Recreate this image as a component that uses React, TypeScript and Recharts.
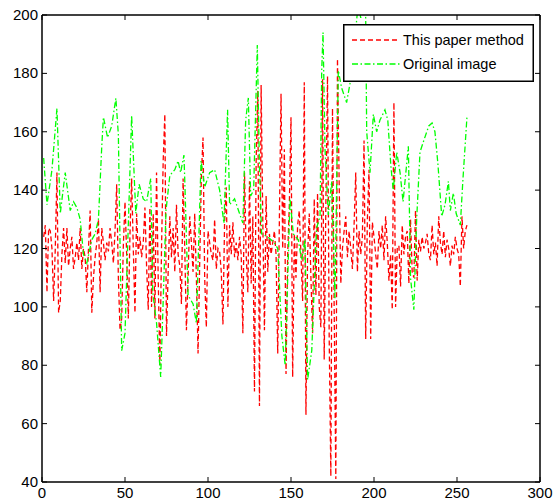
import React from 'react';
import { LineChart, Line, XAxis, YAxis, Legend } from 'recharts';

const xTicks = [0, 50, 100, 150, 200, 250, 300];
const yTicks = [40, 60, 80, 100, 120, 140, 160, 180, 200];
const methodName = 'This paper method';
const originalName = 'Original image';

// "This paper method" (red dashed), one value per sample x = 1..256
const methodValues = [
  124, 128, 105, 127, 126, 120, 102, 120, 146, 98,
  102, 118, 127, 115, 127, 114, 120, 124, 113, 117,
  122, 116, 127, 113, 120, 117, 105, 120, 133, 98,
  110, 117, 122, 130, 105, 127, 122, 116, 122, 119,
  127, 122, 115, 126, 142, 110, 92, 96, 121, 136,
  118, 96, 125, 144, 120, 98, 132, 118, 124, 117,
  122, 134, 114, 99, 134, 100, 132, 96, 146, 110,
  80, 120, 150, 166, 90, 112, 131, 117, 127, 112,
  135, 118, 114, 101, 144, 120, 92, 110, 131, 122,
  112, 132, 110, 84, 115, 145, 158, 110, 93, 126,
  122, 118, 116, 130, 113, 120, 119, 112, 94, 129,
  141, 100, 128, 118, 129, 117, 122, 116, 124, 118,
  91, 146, 118, 105, 143, 108, 131, 71, 150, 174,
  66, 176, 130, 92, 138, 112, 125, 118, 122, 126,
  118, 84, 130, 173, 120, 154, 77, 118, 135, 165,
  76, 125, 110, 128, 133, 118, 102, 177, 63, 118,
  132, 110, 91, 137, 104, 139, 100, 93, 178, 82,
  135, 179, 90, 42, 168, 100, 41, 185, 143, 108,
  120, 126, 131, 117, 126, 120, 113, 128, 146, 112,
  126, 118, 124, 157, 89, 130, 147, 89, 129, 124,
  118, 113, 126, 120, 128, 116, 131, 122, 109, 118,
  99, 170, 100, 120, 121, 107, 128, 118, 124, 126,
  108, 130, 112, 110, 133, 109, 123, 119, 124, 120,
  122, 125, 118, 116, 128, 118, 122, 114, 131, 122,
  118, 126, 117, 123, 120, 114, 121, 118, 124, 120,
  118, 107, 131, 120, 126, 128,
];

// "Original image" (green dash-dot), points read as [x, value]
const originalPoints: [number, number][] = [
  [1, 151], [3, 135], [6, 147], [9, 168], [11, 132], [14, 146], [17, 133], [19, 136],
  [21, 134], [23, 130], [25, 118], [27, 115], [30, 123], [32, 125], [34, 130], [36, 155],
  [37, 165], [39.5, 158], [42, 162], [44.5, 171.5], [46, 159], [48, 85], [50, 91], [54, 165.5],
  [56.5, 132], [58.5, 142], [61, 137], [63, 136], [65.5, 144], [66.7, 105], [69, 94.5], [71.5, 76],
  [73, 102], [74.7, 133], [77, 145], [80, 147], [82, 150], [83.5, 146], [85.5, 152], [86, 143.5],
  [88, 104], [91, 101], [93, 94.5], [95.8, 150], [98, 141], [101, 146], [104, 147], [107, 140],
  [109.6, 128.7], [111.8, 167.5], [113, 135], [116, 137], [119, 132], [121, 128.7], [122.7, 164], [124.3, 171.6],
  [125.7, 138], [127.5, 140], [129.7, 189.7], [131, 148], [132.3, 125], [136, 124], [140, 122], [142, 120],
  [144.5, 90], [146.5, 80], [149.4, 137], [151.4, 125], [154.4, 123], [156.4, 116], [158.4, 123], [160, 75],
  [162.5, 85], [165.4, 127], [167.5, 131], [168.5, 181], [169.3, 194], [170.5, 154], [172.5, 131.5], [174.5, 143],
  [176.5, 103], [178.5, 181], [180.5, 175], [183.5, 170], [186, 178], [188, 185], [189.5, 198], [190.5, 204],
  [192, 199], [193.5, 204], [195, 199], [195.6, 160], [197.6, 146], [199.6, 166], [201.6, 160], [203.6, 164],
  [206.6, 167.5], [208.3, 164], [210.2, 148], [211.6, 140], [213.7, 153], [215.7, 146], [217.5, 136], [220.7, 155],
  [222, 110], [224, 99], [225.7, 130], [227.7, 153], [230, 157], [233, 162], [235, 163], [236.7, 160],
  [238.5, 149], [240.8, 131], [242.8, 135], [244.8, 143], [246, 133], [247.8, 139], [249.5, 132], [252, 128],
  [253.5, 143], [256, 165],
];

const methodData = methodValues.map((v, i) => ({ x: i + 1, y: v }));
const originalData = originalPoints.map(([x, y]) => ({ x, y }));

const FONT = '"Liberation Sans", Arial, Helvetica, sans-serif';
const RED = '#ff0000';
const GREEN = '#00ff00';
const RED_DASH = '5 3';
const GREEN_DASH = '6 2.5 1.5 2.5';

function BottomTick(props: any) {
  const { x, y, payload } = props;
  return (
    <g>
      <line x1={x} y1={y} x2={x} y2={y - 5} stroke="#000" strokeWidth={1} />
      <text x={x} y={y + 16} textAnchor="middle" fontSize={15} fontFamily={FONT} fill="#000">
        {payload.value}
      </text>
    </g>
  );
}

function LeftTick(props: any) {
  const { x, y, payload } = props;
  return (
    <g>
      <line x1={x} y1={y} x2={x + 5} y2={y} stroke="#000" strokeWidth={1} />
      <text x={x - 4} y={y + 5} textAnchor="end" fontSize={15} fontFamily={FONT} fill="#000">
        {payload.value}
      </text>
    </g>
  );
}

function TopTick(props: any) {
  const { x, y } = props;
  return <line x1={x} y1={y} x2={x} y2={y + 5} stroke="#000" strokeWidth={1} />;
}

function RightTick(props: any) {
  const { x, y } = props;
  return <line x1={x} y1={y} x2={x - 5} y2={y} stroke="#000" strokeWidth={1} />;
}

function LegendBox() {
  return (
    <svg width={191} height={58} style={{ display: 'block' }}>
      <rect x={0.75} y={0.75} width={189.5} height={56.5} fill="#fff" stroke="#000" strokeWidth={1.5} />
      <line x1={9} y1={16} x2={57} y2={16} stroke={RED} strokeWidth={1.3} strokeDasharray={RED_DASH} />
      <text x={60} y={21} fontSize={14.5} fontFamily={FONT} fill="#000">{methodName}</text>
      <line x1={9} y1={40} x2={57} y2={40} stroke={GREEN} strokeWidth={1.3} strokeDasharray={GREEN_DASH} />
      <text x={60} y={45} fontSize={14.5} fontFamily={FONT} fill="#000">{originalName}</text>
    </svg>
  );
}

export default function App() {
  return (
    <div style={{ position: 'absolute', left: 0, top: 0, width: 556, height: 504, background: '#fff' }}>
      <LineChart width={556} height={504} margin={{ top: 0, right: 0, bottom: 0, left: 0 }}>
        <XAxis
          xAxisId="bottom"
          dataKey="x"
          type="number"
          orientation="bottom"
          domain={[0, 300]}
          ticks={xTicks}
          interval={0}
          height={22}
          tickSize={0}
          tickMargin={0}
          tickLine={false}
          axisLine={{ stroke: '#000', strokeWidth: 1.5 }}
          tick={(p: any) => <BottomTick {...p} />}
          allowDataOverflow
        />
        <XAxis
          xAxisId="top"
          dataKey="x"
          type="number"
          orientation="top"
          domain={[0, 300]}
          ticks={xTicks}
          interval={0}
          height={15}
          tickSize={0}
          tickMargin={0}
          tickLine={false}
          axisLine={{ stroke: '#000', strokeWidth: 1.5 }}
          tick={(p: any) => <TopTick {...p} />}
          allowDataOverflow
        />
        <YAxis
          yAxisId="left"
          type="number"
          orientation="left"
          domain={[40, 200]}
          ticks={yTicks}
          interval={0}
          width={42}
          tickSize={0}
          tickMargin={0}
          tickLine={false}
          axisLine={{ stroke: '#000', strokeWidth: 1.5 }}
          tick={(p: any) => <LeftTick {...p} />}
          allowDataOverflow
        />
        <YAxis
          yAxisId="right"
          type="number"
          orientation="right"
          domain={[40, 200]}
          ticks={yTicks}
          interval={0}
          width={16}
          tickSize={0}
          tickMargin={0}
          tickLine={false}
          axisLine={{ stroke: '#000', strokeWidth: 1.5 }}
          tick={(p: any) => <RightTick {...p} />}
          allowDataOverflow
        />
        <Line
          xAxisId="bottom"
          yAxisId="left"
          data={methodData}
          dataKey="y"
          name={methodName}
          type="linear"
          stroke={RED}
          strokeWidth={1.3}
          strokeDasharray={RED_DASH}
          dot={false}
          activeDot={false}
          isAnimationActive={false}
        />
        <Line
          xAxisId="bottom"
          yAxisId="left"
          data={originalData}
          dataKey="y"
          name={originalName}
          type="linear"
          stroke={GREEN}
          strokeWidth={1.3}
          strokeDasharray={GREEN_DASH}
          dot={false}
          activeDot={false}
          isAnimationActive={false}
        />
        <Legend
          layout="horizontal"
          verticalAlign="middle"
          align="center"
          wrapperStyle={{ left: 343, top: 24, width: 191, height: 58 }}
          content={() => <LegendBox />}
        />
      </LineChart>
    </div>
  );
}
